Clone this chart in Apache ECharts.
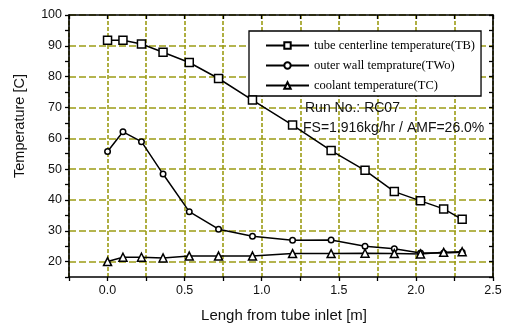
<!DOCTYPE html>
<html><head><meta charset="utf-8">
<script src="https://cdn.jsdelivr.net/npm/echarts@6/dist/echarts.min.js"></script>
<style>html,body{margin:0;padding:0;background:#fff}#c{width:506px;height:329px}</style>
</head><body><div id="c"></div>
<script>
var xTB  = [0.0, 0.1, 0.22, 0.36, 0.53, 0.72, 0.94, 1.2, 1.45, 1.67, 1.86, 2.03, 2.18, 2.3];
var yTB  = [91.8, 91.8, 90.6, 87.9, 84.6, 79.4, 72.4, 64.3, 56.0, 49.6, 42.7, 39.7, 37.1, 33.7];
var xTWo = [0.0, 0.1, 0.22, 0.36, 0.53, 0.72, 0.94, 1.2, 1.45, 1.67, 1.86, 2.03, 2.18, 2.3];
var yTWo = [55.7, 62.1, 58.9, 48.4, 36.2, 30.5, 28.2, 26.9, 27.0, 25.0, 24.2, 22.8, 22.8, 23.0];
var xTC  = [0.0, 0.1, 0.22, 0.36, 0.53, 0.72, 0.94, 1.2, 1.45, 1.67, 1.86, 2.03, 2.18, 2.3];
var yTC  = [20.0, 21.4, 21.4, 21.2, 21.8, 21.8, 21.8, 22.6, 22.6, 22.7, 22.6, 22.5, 23.0, 23.2];
var seriesNames = ['tube centerline temperature(TB)', 'outer wall temprature(TWo)', 'coolant temperature(TC)'];
var xTitle = 'Lengh from tube inlet [m]';
var yTitle = 'Temperature [C]';
var notes = ['Run No.: RC07', 'FS=1.916kg/hr / AMF=26.0%'];

function pairs(xs, ys){ return xs.map(function(x,i){ return [x, ys[i]]; }); }
var olive = '#9c9c14';
var sans = 'Liberation Sans, Arial, sans-serif';
var serif = 'Liberation Serif, Times New Roman, serif';

var chart = echarts.init(document.getElementById('c'), null, {renderer:'canvas'});
function xAx(pos, show){
  return {
    type:'value', position:pos, min:-0.25, max:2.5, interval:0.25,
    axisLine:{show:true, onZero:false, lineStyle:{color:'#000', width:1.6}},
    axisTick:{show:true, inside: pos==='top', length:4, lineStyle:{color:'#000', width:1.3}},
    axisLabel:{show:show, margin:7, fontFamily:sans, fontSize:12.5, color:'#111',
      formatter:function(v){ return (Math.abs(Math.round(v*2)-v*2)<1e-6 && v>=0) ? v.toFixed(1) : ''; }},
    splitLine:{show:pos==='bottom', lineStyle:{color:olive, width:1.6, type:[4,2]}}
  };
}
function yAx(pos, show){
  return {
    type:'value', position:pos, min:15, max:100, interval:5,
    axisLine:{show:true, onZero:false, lineStyle:{color:'#000', width:1.6}},
    axisTick:{show:true, inside: pos==='right', length:4, lineStyle:{color:'#000', width:1.3}},
    axisLabel:{show:show, margin:7, fontFamily:sans, fontSize:12.5, color:'#111',
      formatter:function(v){ return (Math.round(v)%10===0) ? String(Math.round(v)) : ''; }},
    splitLine:{show:pos==='left', lineStyle:{color:['rgba(0,0,0,0)', olive], width:1.6, type:[7,3]}}
  };
}
var common = {type:'line', lineStyle:{color:'#000', width:1.5}, itemStyle:{color:'#fff', borderColor:'#000', borderWidth:1.5}, color:'#000', animation:false, z:5};
chart.setOption({
  animation:false,
  grid:{left:69, top:15, right:13, bottom:52, containLabel:false},
  xAxis:[xAx('bottom', true), xAx('top', false)],
  yAxis:[yAx('left', true), yAx('right', false)],
  legend:{
    orient:'vertical', left:249, top:31, itemWidth:43, itemHeight:8, itemGap:7,
    padding:[8,6,4,16], borderColor:'#000', borderWidth:1.3, backgroundColor:'#fff',
    textStyle:{fontFamily:serif, fontSize:12.5, color:'#000'},
    data:seriesNames
  },
  series:[
    Object.assign({}, common, {name:seriesNames[0], data:pairs(xTB,yTB), symbol:'rect', symbolSize:8}),
    Object.assign({}, common, {name:seriesNames[1], data:pairs(xTWo,yTWo), symbol:'circle', symbolSize:5.5}),
    Object.assign({}, common, {name:seriesNames[2], data:pairs(xTC,yTC), symbol:'triangle', symbolSize:8})
  ],
  graphic:[
    {type:'text', x:20, y:126, rotation:Math.PI/2, style:{text:yTitle, fontFamily:sans, fontSize:14.5, fill:'#111', textAlign:'center', textVerticalAlign:'middle'}},
    {type:'text', x:284, y:316, style:{text:xTitle, fontFamily:sans, fontSize:15, fill:'#111', textAlign:'center', textVerticalAlign:'middle'}},
    {type:'text', x:305, y:108, style:{text:notes[0], fontFamily:sans, fontSize:14, fill:'#111', textAlign:'left', textVerticalAlign:'middle'}, z:10},
    {type:'text', x:303, y:128, style:{text:notes[1], fontFamily:sans, fontSize:14, fill:'#111', textAlign:'left', textVerticalAlign:'middle'}, z:10}
  ]
});
</script></body></html>
